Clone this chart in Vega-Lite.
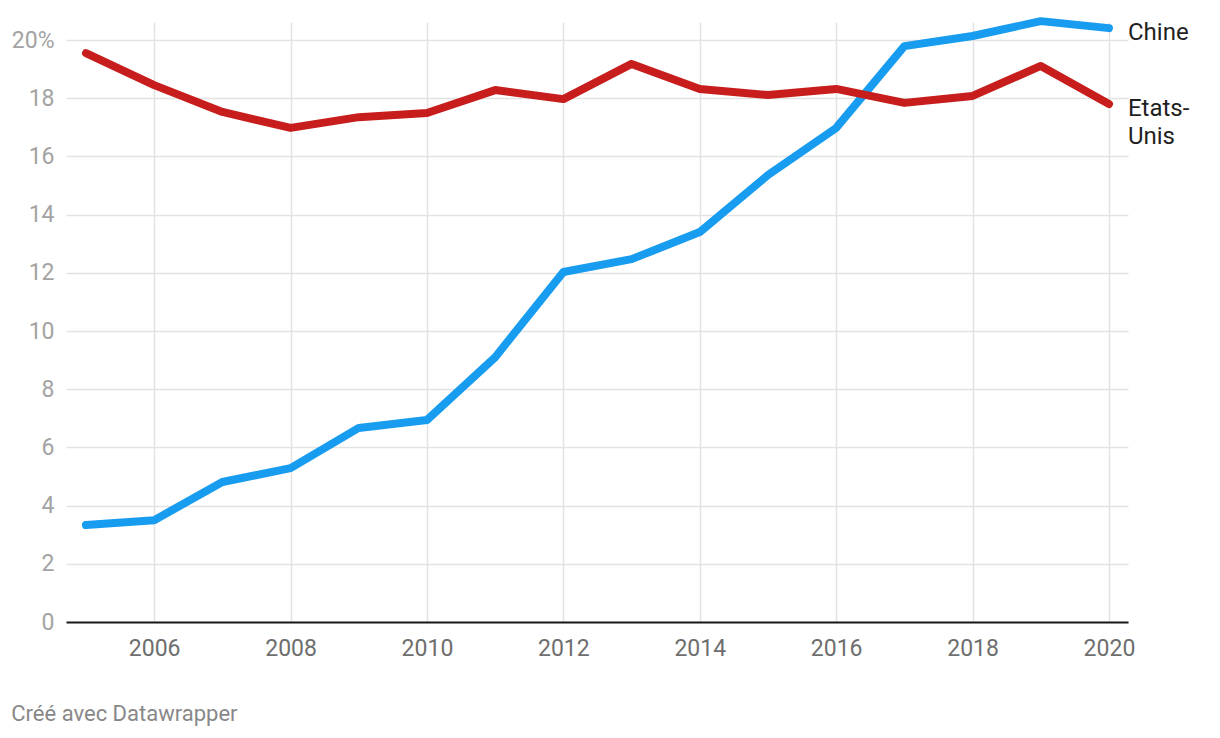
{
  "$schema": "https://vega.github.io/schema/vega-lite/v6.json",
  "width": 1062,
  "height": 600,
  "autosize": "none",
  "padding": {"left": 66, "top": 22, "right": 92, "bottom": 116},
  "background": "white",
  "config": {
    "view": {"stroke": null},
    "font": "Roboto"
  },
  "title": {
    "text": "Créé avec Datawrapper",
    "orient": "bottom",
    "anchor": "start",
    "frame": "bounds",
    "font": "Roboto",
    "fontSize": 22,
    "fontWeight": "normal",
    "color": "#888888",
    "offset": 44
  },
  "data": {
    "values": [
      {"year": 2005, "pays": "Chine", "val": 3.33},
      {"year": 2006, "pays": "Chine", "val": 3.5},
      {"year": 2007, "pays": "Chine", "val": 4.81},
      {"year": 2008, "pays": "Chine", "val": 5.29},
      {"year": 2009, "pays": "Chine", "val": 6.67},
      {"year": 2010, "pays": "Chine", "val": 6.94},
      {"year": 2011, "pays": "Chine", "val": 9.1},
      {"year": 2012, "pays": "Chine", "val": 12.03},
      {"year": 2013, "pays": "Chine", "val": 12.47},
      {"year": 2014, "pays": "Chine", "val": 13.4},
      {"year": 2015, "pays": "Chine", "val": 15.36},
      {"year": 2016, "pays": "Chine", "val": 16.98},
      {"year": 2017, "pays": "Chine", "val": 19.79},
      {"year": 2018, "pays": "Chine", "val": 20.14},
      {"year": 2019, "pays": "Chine", "val": 20.65},
      {"year": 2020, "pays": "Chine", "val": 20.41, "label": "Chine"},
      {"year": 2005, "pays": "Etats-Unis", "val": 19.55},
      {"year": 2006, "pays": "Etats-Unis", "val": 18.45},
      {"year": 2007, "pays": "Etats-Unis", "val": 17.53},
      {"year": 2008, "pays": "Etats-Unis", "val": 16.98},
      {"year": 2009, "pays": "Etats-Unis", "val": 17.35},
      {"year": 2010, "pays": "Etats-Unis", "val": 17.49},
      {"year": 2011, "pays": "Etats-Unis", "val": 18.28},
      {"year": 2012, "pays": "Etats-Unis", "val": 17.97},
      {"year": 2013, "pays": "Etats-Unis", "val": 19.18},
      {"year": 2014, "pays": "Etats-Unis", "val": 18.32},
      {"year": 2015, "pays": "Etats-Unis", "val": 18.11},
      {"year": 2016, "pays": "Etats-Unis", "val": 18.32},
      {"year": 2017, "pays": "Etats-Unis", "val": 17.84},
      {"year": 2018, "pays": "Etats-Unis", "val": 18.08},
      {"year": 2019, "pays": "Etats-Unis", "val": 19.11},
      {"year": 2020, "pays": "Etats-Unis", "val": 17.8, "label": "Etats-\nUnis"}
    ]
  },
  "encoding": {
    "x": {
      "field": "year",
      "type": "quantitative",
      "scale": {"domain": [2004.707, 2020.279], "nice": false, "zero": false},
      "axis": {
        "title": null,
        "values": [2006, 2008, 2010, 2012, 2014, 2016, 2018, 2020],
        "format": "d",
        "grid": true,
        "gridColor": "#e3e3e3",
        "gridWidth": 1.5,
        "ticks": false,
        "domain": true,
        "domainColor": "#1a1a1a",
        "domainWidth": 2,
        "labelFont": "Roboto",
        "labelFontSize": 23,
        "labelColor": "#6e6e6e",
        "labelPadding": 15,
        "labelFlush": false,
        "labelOverlap": false
      }
    },
    "y": {
      "field": "val",
      "type": "quantitative",
      "scale": {"domain": [0, 20.62], "nice": false},
      "axis": {
        "title": null,
        "values": [0, 2, 4, 6, 8, 10, 12, 14, 16, 18, 20],
        "labelExpr": "datum.value == 20 ? '20%' : datum.label",
        "grid": true,
        "gridColor": "#e3e3e3",
        "gridWidth": 1.5,
        "ticks": false,
        "domain": false,
        "labelFont": "Roboto",
        "labelFontSize": 23,
        "labelColor": "#a3a3a3",
        "labelPadding": 12,
        "labelFlush": false,
        "labelOverlap": false
      }
    },
    "color": {
      "field": "pays",
      "type": "nominal",
      "scale": {"domain": ["Chine", "Etats-Unis"], "range": ["#179cf0", "#c71e1d"]},
      "legend": null
    }
  },
  "layer": [
    {
      "mark": {"type": "line", "strokeWidth": 8, "strokeCap": "round", "strokeJoin": "round", "clip": false}
    },
    {
      "transform": [{"filter": "datum.label != null"}],
      "mark": {
        "type": "text",
        "align": "left",
        "baseline": "top",
        "dx": 19,
        "dy": -7,
        "font": "Roboto",
        "fontSize": 24,
        "lineHeight": 28,
        "lineBreak": "\n",
        "color": "#1f1f1f"
      },
      "encoding": {
        "text": {"field": "label"},
        "color": {"value": "#1f1f1f"}
      }
    }
  ]
}
